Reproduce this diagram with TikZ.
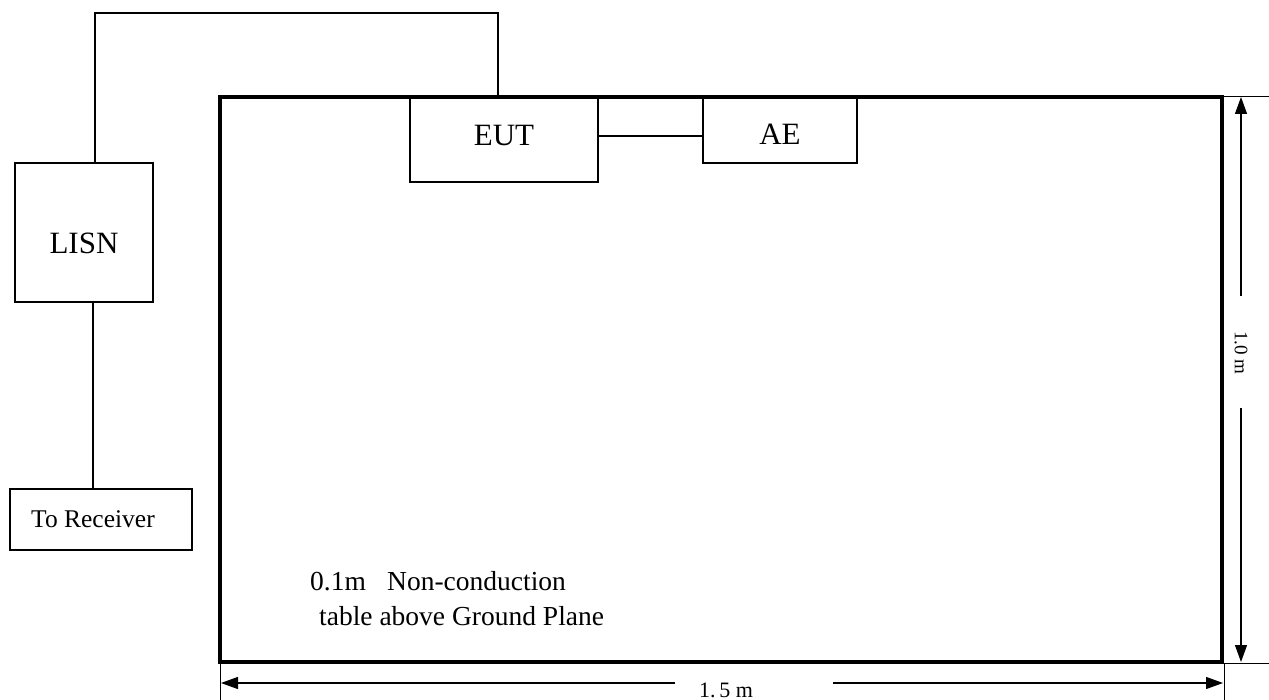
\documentclass[tikz,border=0pt]{standalone}
\usepackage{fontspec}
\setmainfont{Liberation Serif}
\usetikzlibrary{arrows.meta}
\newcommand{\lowered}[2]{\raisebox{#1}[0pt][0pt]{#2}}
\begin{document}
\begin{tikzpicture}[x=1pt,y=-1pt,
  box/.style={draw,line width=2pt,inner sep=0pt,font=\fontsize{31}{34}\selectfont},
  wire/.style={line width=2pt},
  dimline/.style={line width=1.2pt,-{Triangle[length=17pt,width=12pt]}},
  extline/.style={line width=0.8pt},
  lbl/.style={inner sep=0pt,font=\fontsize{27.5}{30}\selectfont}]
\useasboundingbox (0,0) rectangle (1269,700);
% table
\node[draw,line width=4pt,inner sep=0pt,minimum width=1002pt,minimum height=565pt] (table) at (721,379.5) {};
% boxes
\node[box,minimum width=188pt,minimum height=85pt] (eut) at (504,139.5) {\lowered{-6pt}{EUT}};
\node[box,minimum width=154pt,minimum height=66pt] (ae) at (780,130) {\lowered{-15pt}{AE}};
\node[box,minimum width=138pt,minimum height=139pt] (lisn) at (84,232.5) {\lowered{-21pt}{LISN}};
\node[box,minimum width=182pt,minimum height=61pt,font=\fontsize{25.5}{28}\selectfont] (rx) at (101,519.5) {\lowered{-8pt}{To Receiver\hspace{16pt}}};
% wires
\coordinate (wtop) at (95,13);
\draw[wire] ([xshift=-6pt]eut.north) |- (wtop) -- ([xshift=11pt]lisn.north);
\draw[wire] ([xshift=9pt]lisn.south) -- ([xshift=-8pt]rx.north);
\draw[wire] (eut.east |- 0,136) -- (ae.west |- 0,136);
% texts
\node[lbl,anchor=base west] (t1) at (310,590) {0.1m};
\node[lbl,anchor=base west] (t2) at (387,590) {Non-conduction};
\node[lbl,anchor=base west] (t3) at (319,625) {table above Ground Plane};
% dimension 1.0 m
\node[inner sep=0pt,rotate=-90,font=\fontsize{19}{22}\selectfont] (dv) at (1241,353) {1.0 m};
\coordinate (dvu) at (1241,296);
\coordinate (dvd) at (1241,408);
\coordinate (dvt) at (1241,97);
\coordinate (dvb) at (1241,662);
\draw[dimline] (dvu) -- (dvt);
\draw[dimline] (dvd) -- (dvb);
\draw[extline] (1224,96) -- (1269,96);
\draw[extline] (1224,663) -- (1269,663);
% dimension 1.5 m
\node[inner sep=0pt,anchor=base,font=\fontsize{22}{25}\selectfont] (dh) at (726,697) {1.\,5 m};
\coordinate (dhl) at (675,683);
\coordinate (dhr) at (833,683);
\coordinate (dhL) at (221,683);
\coordinate (dhR) at (1223,683);
\draw[dimline] (dhl) -- (dhL);
\draw[dimline] (dhr) -- (dhR);
\draw[extline] (220,663) -- (220,700);
\draw[extline] (1224,663) -- (1224,700);
\end{tikzpicture}
\end{document}
